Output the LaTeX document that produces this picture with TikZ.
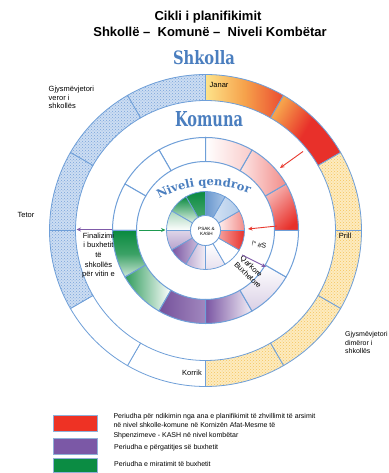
\documentclass[tikz,border=0pt]{standalone}
\usepackage{fontspec}
\setmainfont{Liberation Sans}
\newfontfamily\wafont{DejaVu Serif}
\usepackage{graphicx}
\usetikzlibrary{patterns,decorations.text,arrows.meta}
\definecolor{ringblue}{HTML}{6F9FD8}
\definecolor{blfill}{HTML}{CCDDF2}
\definecolor{blpat}{HTML}{7AA3DA}
\definecolor{yefill}{HTML}{FDEBBF}
\definecolor{yepat}{HTML}{F5C55E}
\definecolor{janY}{HTML}{FDE38A}
\definecolor{janO}{HTML}{F6A24B}
\definecolor{janR}{HTML}{EB4B30}
\definecolor{mred}{HTML}{E8302A}
\definecolor{mgreen}{HTML}{0A8A3F}
\definecolor{mpurple}{HTML}{7A55A3}
\definecolor{arrred}{HTML}{E8392F}
\definecolor{arrgreen}{HTML}{1E9A50}
\definecolor{arrpurple}{HTML}{7F5AA8}
\definecolor{wablue}{HTML}{4A7EBF}
\definecolor{legred}{HTML}{EE3224}
\definecolor{legpurple}{HTML}{7B58A6}
\definecolor{leggreen}{HTML}{0B8C43}
\definecolor{legedge}{HTML}{8FB0D8}
\newcommand{\sect}[5]{\path[#1] (#2:#5) arc[start angle=#2,end angle=#3,radius=#5] -- (#3:#4) arc[start angle=#3,end angle=#2,radius=#4] -- cycle;}
\tikzset{
  lbl/.style={font=\fontsize{7.5}{8.6}\selectfont, inner sep=0pt},
  legtxt/.style={font=\fontsize{7}{8.5}\selectfont, inner sep=0pt, anchor=base west},
  legbox/.style={draw=legedge, line width=0.6pt},
  arr/.style={line width=0.9pt, -{Stealth[length=4.5pt,width=4pt]}},
  bd/.style={draw=ringblue, line width=0.8pt},
}
\begin{document}
\begin{tikzpicture}[x=1pt,y=1pt]
\useasboundingbox (0,0) rectangle (388,473);
\fill[white] (0,0) rectangle (388,473);
\coordinate (C) at (205.5,242.5);

% titles
\node[font=\bfseries\fontsize{13}{15}\selectfont, anchor=base, inner sep=0pt] (t1) at (208,452) {Cikli i planifikimit};
\node[font=\bfseries\fontsize{13}{15}\selectfont, anchor=base, inner sep=0pt] (t2) at (210,436) {Shkollë – \ Komunë – \ Niveli Kombëtar};

\begin{scope}[shift={(C)}]
% ---------- outer ring (Shkolla) ----------
\sect{left color=janY, right color=janR, middle color=janO, bd}{60}{90}{130}{156}
\sect{left color=janO, right color=mred, middle color=mred, shading angle=60, bd}{30}{60}{130}{156}
\foreach \a in {0,-30,-60,-90}{
  \sect{fill=yefill}{\a}{\a+30}{130}{156}
  \sect{pattern=crosshatch dots, pattern color=yepat, bd}{\a}{\a+30}{130}{156}
}
\sect{fill=white, bd}{-120}{-90}{130}{156}
\sect{fill=white, bd}{-150}{-120}{130}{156}
\foreach \a in {90,120,150,180}{
  \sect{fill=blfill}{\a}{\a+30}{130}{156}
  \sect{pattern=crosshatch dots, pattern color=blpat, bd}{\a}{\a+30}{130}{156}
}
% ---------- middle ring (Komuna) ----------
\sect{fill=white, bd, line width=1pt}{90}{120}{69}{93}
\sect{fill=white, bd, line width=1pt}{120}{150}{69}{93}
\sect{fill=white, bd, line width=1pt}{150}{180}{69}{93}
\sect{top color=mgreen, bottom color=mgreen!20!white, middle color=mgreen!80!white, bd, line width=1pt}{180}{210}{69}{93}
\sect{left color=mgreen!85!white, right color=white, bd, line width=1pt}{210}{240}{69}{93}
\sect{left color=mpurple!95!black, right color=mpurple!70!white, bd, line width=1pt}{240}{270}{69}{93}
\sect{left color=mpurple, right color=mpurple!10!white, bd, line width=1pt}{270}{300}{69}{93}
\sect{top color=white, bottom color=mpurple!28!white, bd, line width=1pt}{300}{330}{69}{93}
\sect{fill=white, bd, line width=1pt}{330}{360}{69}{93}
\sect{left color=mred!35!white, right color=mred, shading angle=45, bd, line width=1pt}{0}{30}{69}{93}
\sect{left color=mred!12!white, right color=mred!55!white, bd, line width=1pt}{30}{60}{69}{93}
\sect{left color=white, right color=mred!25!white, bd, line width=1pt}{60}{90}{69}{93}
% ---------- inner wheel ----------
\sect{top color=mgreen, bottom color=mgreen!75!white, bd}{90}{120}{15}{39}
\sect{top color=mgreen, bottom color=mgreen!12!white, bd}{120}{150}{15}{39}
\sect{top color=mgreen!35!white, bottom color=white, bd}{150}{180}{15}{39}
\sect{top color=mpurple!25!white, bottom color=mpurple!55!white, bd}{180}{210}{15}{39}
\sect{left color=mpurple, right color=mpurple!40!white, bd}{210}{240}{15}{39}
\sect{left color=mpurple!50!white, right color=mpurple!10!white, bd}{240}{270}{15}{39}
\sect{top color=white, bottom color=mpurple!18!white, bd}{270}{300}{15}{39}
\sect{fill=white, bd}{300}{330}{15}{39}
\sect{left color=mred!45!white, right color=mred, bd}{330}{360}{15}{39}
\sect{left color=mred!8!white, right color=mred!55!white, bd}{0}{30}{15}{39}
\sect{left color=ringblue!30!white, right color=ringblue!55!white, bd}{30}{60}{15}{39}
\sect{left color=ringblue!95!black, right color=ringblue!60!white, bd}{60}{90}{15}{39}
\draw[bd, fill=white] (0,0) circle[radius=15];
\end{scope}

% curved title (flat WordArt arch)
\coordinate (archc) at (210,182);
\path[decorate, decoration={text along path, text color=wablue, text align=center,
  text={|\wafont\bfseries\fontsize{11.5}{12}\selectfont|Niveli qendror}}]
  (archc) ++(121:105) arc[start angle=121, end angle=66, radius=105];

% word-art headings
\node[inner sep=0pt, text=wablue] (shk) at (204,415.5) {\resizebox{62pt}{14pt}{\wafont\bfseries Shkolla}};
\node[inner sep=0pt, text=wablue] (kom) at (209,353.5) {\resizebox{68pt}{15pt}{\wafont\bfseries Komuna}};

% centre text
\node[font=\fontsize{4.6}{5.8}\selectfont, align=center, inner sep=0pt] (psak) at (206.5,241.5) {PSAK \&\\KASH};

% month labels
\node[lbl, anchor=west] (jan) at (209.5,388.5) {Janar};
\node[lbl] (pri) at (345,237) {Prill};
\node[lbl] (tet) at (26,258.5) {Tetor};
\node[lbl] (kor) at (192,100) {Korrik};
\node[lbl, align=left, anchor=north west] (gjv) at (48.5,387) {Gjysmëvjetori\\veror i\\shkollës};
\node[lbl, font=\fontsize{7}{8.4}\selectfont, align=left, anchor=north west] (gjd) at (345,141.5) {Gjysmëvjetori\\dimëror i\\shkollës};
\node[lbl, font=\fontsize{7.5}{9.7}\selectfont, align=center, anchor=north] (fin) at (98.5,240.5) {Finalizimi\\i buxhetit\\të\\shkollës\\për vitin e};
\node[lbl, font=\fontsize{7}{8}\selectfont, rotate=-12] (sym) at (259,228) {!" \#S};
\node[lbl, align=left, rotate=-44] (qar) at (251,201) {Qarkore\\Buxhetore};

% arrows
\coordinate (a1s) at (303,321.5); \coordinate (a1e) at (280,305);
\coordinate (a2s) at (277,247);   \coordinate (a2e) at (248,244);
\coordinate (a3s) at (139,243);   \coordinate (a3e) at (165.5,243);
\coordinate (a4s) at (112,243.5); \coordinate (a4e) at (76.5,243.5);
\coordinate (a5s) at (242,218);   \coordinate (a5e) at (266,206);
\draw[arr, arrred] (a1s) -- (a1e);
\draw[arr, arrred] (a2s) -- (a2e);
\draw[arr, arrgreen] (a3s) -- (a3e);
\draw[arr, arrpurple] (a4s) -- (a4e);
\draw[arr, arrpurple] (a5s) -- (a5e);

% legend
\draw[legbox, fill=legred] (53,58) rectangle (97,42);
\draw[legbox, fill=legpurple] (53,35) rectangle (97,19);
\draw[legbox, fill=leggreen] (53,15) rectangle (97,0.3);
\node[legtxt] (l1) at (113.3,54.3) {Periudha për ndikimin nga ana e planifikimit të zhvillimit të arsimit};
\node[legtxt] (l2) at (113.3,45) {në nivel shkolle-komune në Kornizën Afat-Mesme të};
\node[legtxt] (l3) at (113.3,35.7) {Shpenzimeve - KASH në nivel kombëtar};
\node[legtxt] (l4) at (114,23) {Periudha e përgatitjes së buxhetit};
\node[legtxt] (l5) at (114,6.8) {Periudha e miratimit të buxhetit};
\end{tikzpicture}
\end{document}
